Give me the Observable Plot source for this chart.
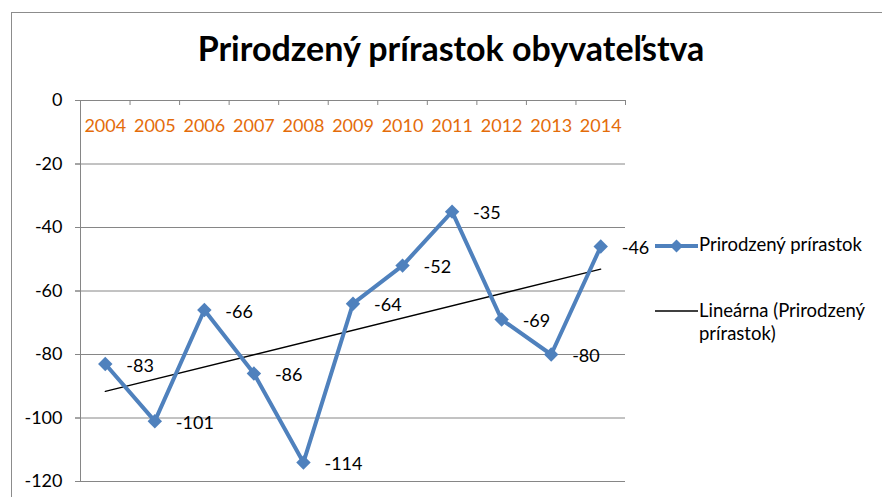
<!DOCTYPE html>
<html><head><meta charset="utf-8">
<script src="https://cdn.jsdelivr.net/npm/d3@7"></script>
<script src="https://cdn.jsdelivr.net/npm/@observablehq/plot@0.6"></script>
<style>
html,body{margin:0;padding:0;background:#fff;}
#wrap{position:relative;width:882px;height:497px;overflow:hidden;font-family:Lato,"Noto Sans",sans-serif;}
#frame{position:absolute;left:11px;top:12px;width:900px;height:520px;border:1px solid #8c8c8c;box-sizing:border-box;}
#title{position:absolute;left:0;width:902px;top:27px;text-align:center;font-weight:bold;font-size:34px;color:#000;}
.leg{position:absolute;font-size:18.5px;color:#000;line-height:23px;}
#chart{position:absolute;left:0;top:0;}
</style></head>
<body><div id="wrap"><div id="frame"></div><div id="chart"></div>
<div id="title">Prirodzený prírastok obyvateľstva</div>
<div class="leg" style="left:655px;top:233px;"><svg width="44" height="24" style="vertical-align:middle"><line x1="0" x2="43" y1="12" y2="12" stroke="#4F81BD" stroke-width="4"/><path d="M21.5 5.5 L28 12 L21.5 18.5 L15 12Z" fill="#4F81BD"/></svg></div>
<div class="leg" style="left:699px;top:233px;">Prirodzený prírastok</div>
<div class="leg" style="left:655px;top:299px;"><svg width="44" height="24"><line x1="0" x2="43" y1="12" y2="12" stroke="#000" stroke-width="1.3"/></svg></div>
<div class="leg" style="left:699px;top:299px;">Lineárna (Prirodzený<br>prírastok)</div>
</div>
<script>
const years = [2004,2005,2006,2007,2008,2009,2010,2011,2012,2013,2014];
const values = [-83,-101,-66,-86,-114,-64,-52,-35,-69,-80,-46];
const yTicks = [0,-20,-40,-60,-80,-100,-120];
const data = years.map((y,i)=>({year:y, value:values[i]}));
const bounds = d3.range(years[0]-0.5, years[years.length-1]+1, 1);
const font = "Lato, 'Noto Sans', sans-serif";
const chart = Plot.plot({
  width: 882, height: 497,
  marginLeft: 80, marginRight: 257, marginTop: 100, marginBottom: 16,
  style: {fontFamily: font, fontSize: "18px", background: "transparent"},
  x: {domain: [bounds[0], bounds[bounds.length-1]], axis: null},
  y: {domain: [-120, 0], axis: null},
  marks: [
    Plot.gridY(yTicks, {stroke: "#868686", strokeOpacity: 1, x1: bounds[0]-0.1, x2: bounds[bounds.length-1]}),
    Plot.ruleX([bounds[0]], {y1: -120, y2: 0, stroke: "#868686"}),
    Plot.ruleX(bounds, {x: d=>d, y1: 0, y2: 0, insetBottom: -5, stroke: "#868686"}),
    Plot.axisY(yTicks, {tickSize: 5, tickPadding: 13, stroke: "#868686", fill: "#000", fontSize: 18, label: null, tickFormat: d=>String(d)}),
    Plot.text(years, {x: d=>d, y: 0, dy: 26, text: d=>String(d), fill: "#E46C0A", fontSize: 18}),
    Plot.linearRegressionY(data, {x: "year", y: "value", stroke: "#000", strokeWidth: 1.3, ci: 0}),
    Plot.line(data, {x: "year", y: "value", stroke: "#4F81BD", strokeWidth: 4}),
    Plot.dot(data, {x: "year", y: "value", symbol: "diamond2", r: 6.5, fill: "#4F81BD", stroke: null}),
    Plot.text(data, {x: "year", y: "value", text: d=>String(d.value), dx: 21, dy: 2, textAnchor: "start", fill: "#000", fontSize: 18})
  ]
});
document.getElementById("chart").appendChild(chart);
</script></body></html>
